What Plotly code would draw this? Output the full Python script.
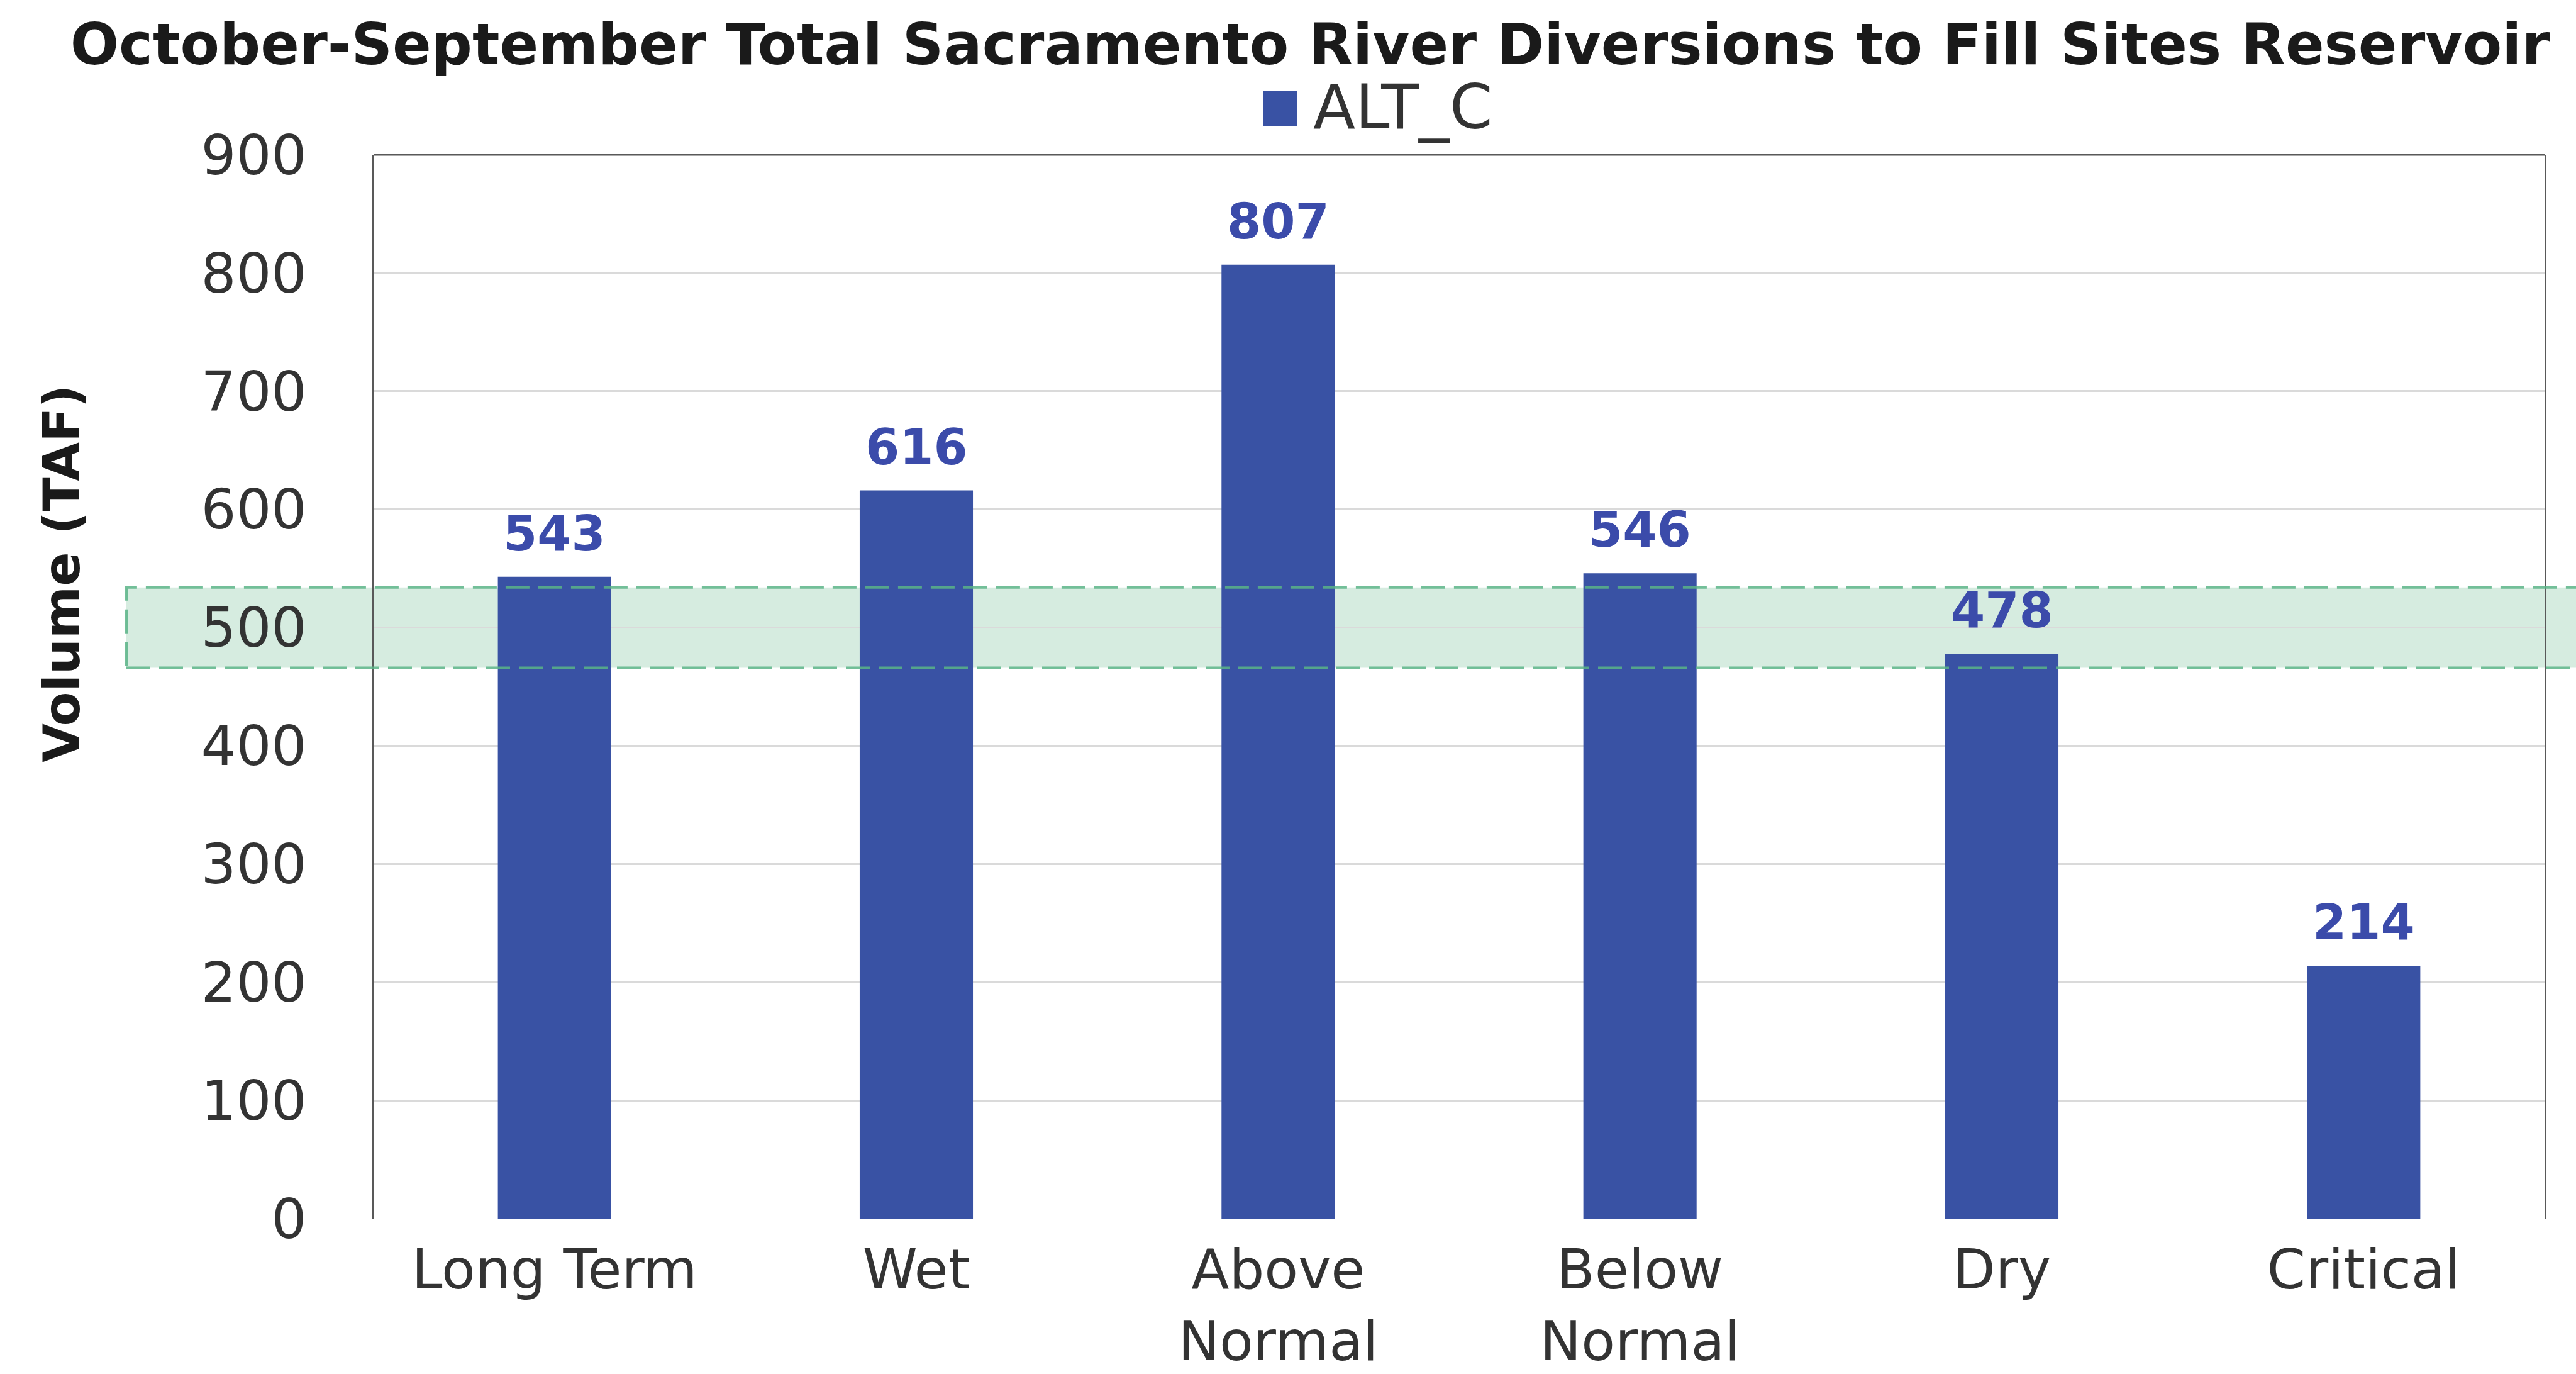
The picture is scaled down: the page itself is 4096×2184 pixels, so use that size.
import plotly.graph_objects as go

# ---- data ----
categories = ["Long Term", "Wet", "Above<br>Normal", "Below<br>Normal", "Dry", "Critical"]
alt_c_values = [543, 616, 807, 546, 478, 214]
series_name = "ALT_C"
band_low = 466
band_high = 534
y_ticks = [0, 100, 200, 300, 400, 500, 600, 700, 800, 900]

BAR_COLOR = "#3952A4"
LABEL_COLOR = "#3B4BAA"
TEXT_COLOR = "#333333"
FONT = "DejaVu Sans"

W, H = 4096, 2184
L, R, T, B = 594, 50, 246, 247
PW = W - L - R
PH = H - T - B

fig = go.Figure()
fig.add_trace(go.Bar(
    x=categories, y=alt_c_values, name=series_name,
    marker=dict(color=BAR_COLOR, line=dict(width=0)),
    showlegend=False,
))

# value labels
for c, v in zip(categories, alt_c_values):
    fig.add_annotation(
        x=c, y=v, xref="x", yref="y", text=str(v), showarrow=False,
        yanchor="bottom", yshift=22,
        font=dict(family=FONT, size=78, color=LABEL_COLOR, weight="bold"),
    )

# green band (fill below bars, dashed outline above)
fig.add_shape(type="rect", xref="paper", yref="y",
              x0=(201 - L) / PW, x1=1.03, y0=band_low, y1=band_high,
              fillcolor="rgba(76,175,122,0.23)", line=dict(width=0), layer="between")
fig.add_shape(type="rect", xref="paper", yref="y",
              x0=(201 - L) / PW, x1=1.03, y0=band_low, y1=band_high,
              fillcolor="rgba(0,0,0,0)",
              line=dict(color="rgba(90,180,135,0.85)", width=4, dash="38px,14px"),
              layer="above")

# top frame line
fig.add_shape(type="line", xref="paper", yref="paper", x0=0, x1=1, y0=1, y1=1,
              line=dict(color="#595959", width=3), layer="above")

# manual legend
fig.add_shape(type="rect", xref="paper", yref="paper",
              x0=(2008 - L) / PW, x1=(2063 - L) / PW,
              y0=(H - B - 200) / PH, y1=(H - B - 145) / PH,
              fillcolor=BAR_COLOR, line=dict(width=0), layer="above")
fig.add_annotation(x=(2086 - L) / PW, y=(H - B - 170) / PH, xref="paper", yref="paper",
                   text=series_name, showarrow=False, xanchor="left", yanchor="middle",
                   font=dict(family=FONT, size=98, color=TEXT_COLOR))

# y axis title
fig.add_annotation(x=0, y=(H - B - 912) / PH, xref="paper", yref="paper",
                   xshift=-(L - 99), text="Volume (TAF)", textangle=-90, showarrow=False,
                   xanchor="center", yanchor="middle",
                   font=dict(family=FONT, size=80, color="#1a1a1a", weight="bold"))

fig.update_layout(
    width=W, height=H,
    margin=dict(l=L, r=R, t=T, b=B, autoexpand=False),
    paper_bgcolor="white", plot_bgcolor="white",
    bargap=0.687,
    title=dict(
        text="October-September Total Sacramento River Diversions to Fill Sites Reservoir",
        x=2083 / W, xanchor="center", xref="container",
        y=1 - 70 / H, yanchor="middle",
        font=dict(family=FONT, size=91, color="#1a1a1a", weight="bold"),
    ),
    font=dict(family=FONT, color=TEXT_COLOR),
)
fig.update_xaxes(
    showline=False, showgrid=False, zeroline=False, ticks="",
    tickfont=dict(family=FONT, size=88, color=TEXT_COLOR),
    ticklabelstandoff=22,
)
fig.update_yaxes(
    range=[0, 900], tickvals=y_ticks, ticks="",
    showgrid=True, gridcolor="#DADADA", gridwidth=3,
    zeroline=False,
    showline=True, mirror=True, linecolor="#595959", linewidth=3,
    tickfont=dict(family=FONT, size=88, color=TEXT_COLOR),
    ticklabelstandoff=86,
)

fig.write_html("out.html")
